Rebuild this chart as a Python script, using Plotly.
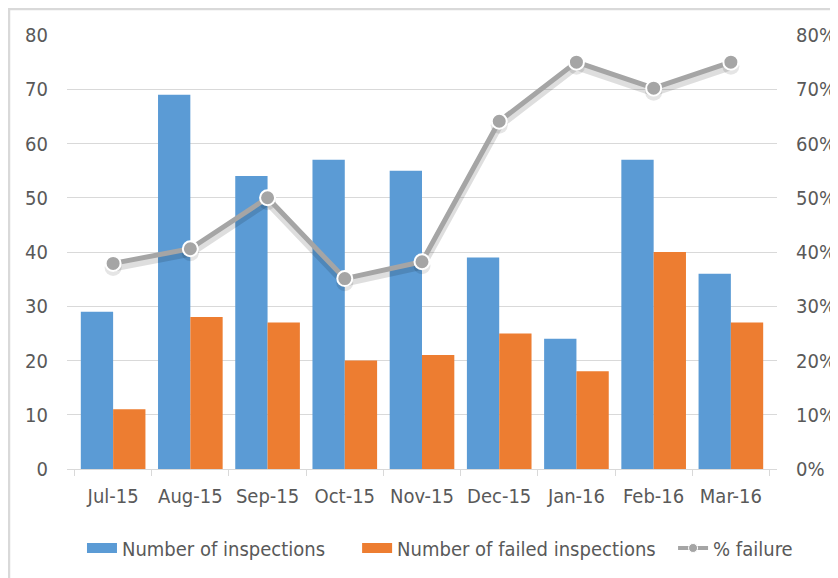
import plotly.graph_objects as go

months = ["Jul-15", "Aug-15", "Sep-15", "Oct-15", "Nov-15", "Dec-15", "Jan-16", "Feb-16", "Mar-16"]
inspections = [29, 69, 54, 57, 55, 39, 24, 57, 36]
failed = [11, 28, 27, 20, 21, 25, 18, 40, 27]
pct_failure = [37.9, 40.6, 50.0, 35.1, 38.2, 64.1, 75.0, 70.2, 75.0]

left_ticks = [0, 10, 20, 30, 40, 50, 60, 70, 80]
right_ticks = [0, 10, 20, 30, 40, 50, 60, 70, 80]
right_labels = ["0%", "10%", "20%", "30%", "40%", "50%", "60%", "70%", "80%"]

FONT = "DejaVu Sans Condensed, Liberation Sans Narrow, sans-serif"
TXT = "#595959"
GRID = "#D9D9D9"
BLUE = "#5B9BD5"
ORANGE = "#ED7D31"
GRAY = "#A5A5A5"
FS = 20

fig = go.Figure()
fig.add_trace(go.Bar(x=months, y=inspections, name="Number of inspections",
                     marker=dict(color=BLUE, line=dict(width=0)), showlegend=False))
fig.add_trace(go.Bar(x=months, y=failed, name="Number of failed inspections",
                     marker=dict(color=ORANGE, line=dict(width=0)), showlegend=False))
# soft drop shadow of the line (same data on a slightly shifted hidden axis)
fig.add_trace(go.Scatter(x=months, y=pct_failure, yaxis="y2", mode="lines+markers",
                         line=dict(color="rgba(0,0,0,0.13)", width=8),
                         marker=dict(color="rgba(0,0,0,0.10)", size=17, line=dict(width=0)),
                         hoverinfo="skip", showlegend=False))
fig.add_trace(go.Scatter(x=months, y=pct_failure, name="% failure", yaxis="y3",
                         mode="lines+markers", showlegend=False,
                         line=dict(color=GRAY, width=5),
                         marker=dict(color=GRAY, size=15,
                                     line=dict(color="white", width=2))))
# legend entries
fig.add_trace(go.Scatter(x=[None], y=[None], mode="lines", name="Number of inspections",
                         line=dict(color=BLUE, width=12), legend="legend"))
fig.add_trace(go.Scatter(x=[None], y=[None], mode="lines", name="Number of failed inspections",
                         line=dict(color=ORANGE, width=12), legend="legend2"))
fig.add_trace(go.Scatter(x=[None], y=[None], mode="lines+markers", name="% failure",
                         line=dict(color=GRAY, width=4),
                         marker=dict(color=GRAY, size=9, line=dict(color="white", width=1)),
                         legend="legend3"))

leg = dict(orientation="h", y=-0.182, yanchor="middle", xanchor="left",
           font=dict(size=FS, color=TXT), bgcolor="rgba(0,0,0,0)")

fig.update_layout(
    width=830, height=570,
    margin=dict(l=59, r=61, t=27, b=109, autoexpand=False),
    paper_bgcolor="white", plot_bgcolor="white",
    font=dict(family=FONT, size=FS, color=TXT),
    barmode="group", bargap=0.163, bargroupgap=0,
    showlegend=True,
    legend=dict(leg, x=0.0211),
    legend2=dict(leg, x=0.4086),
    legend3=dict(leg, x=0.8536),
    xaxis=dict(showgrid=False, showline=True, linecolor=GRID, linewidth=1,
               ticks="outside", tickson="boundaries", ticklen=6, tickcolor=GRID,
               tickfont=dict(size=FS, color=TXT), ticklabelstandoff=9,
               automargin=False),
    yaxis=dict(range=[0, 80], tickvals=left_ticks, showgrid=True, gridcolor=GRID,
               gridwidth=1, zeroline=False, showline=False, ticks="",
               tickfont=dict(size=FS, color=TXT), ticklabelstandoff=18,
               automargin=False),
    yaxis2=dict(range=[0.75, 80.75], overlaying="y", side="right", visible=False),
    yaxis3=dict(range=[0, 80], tickvals=right_ticks, ticktext=right_labels,
                overlaying="y", side="right", showgrid=False, zeroline=False,
                showline=False, ticks="", tickfont=dict(size=FS, color=TXT),
                ticklabelstandoff=18, automargin=False),
    shapes=[dict(type="line", xref="paper", yref="paper", x0=-0.0817, x1=1.2,
                 y0=1.06, y1=1.06, line=dict(color=GRID, width=2.5)),
            dict(type="line", xref="paper", yref="paper", x0=-0.0817, x1=-0.0817,
                 y0=1.07, y1=-0.3, line=dict(color=GRID, width=2.5))],
)

fig.write_html("out.html")
